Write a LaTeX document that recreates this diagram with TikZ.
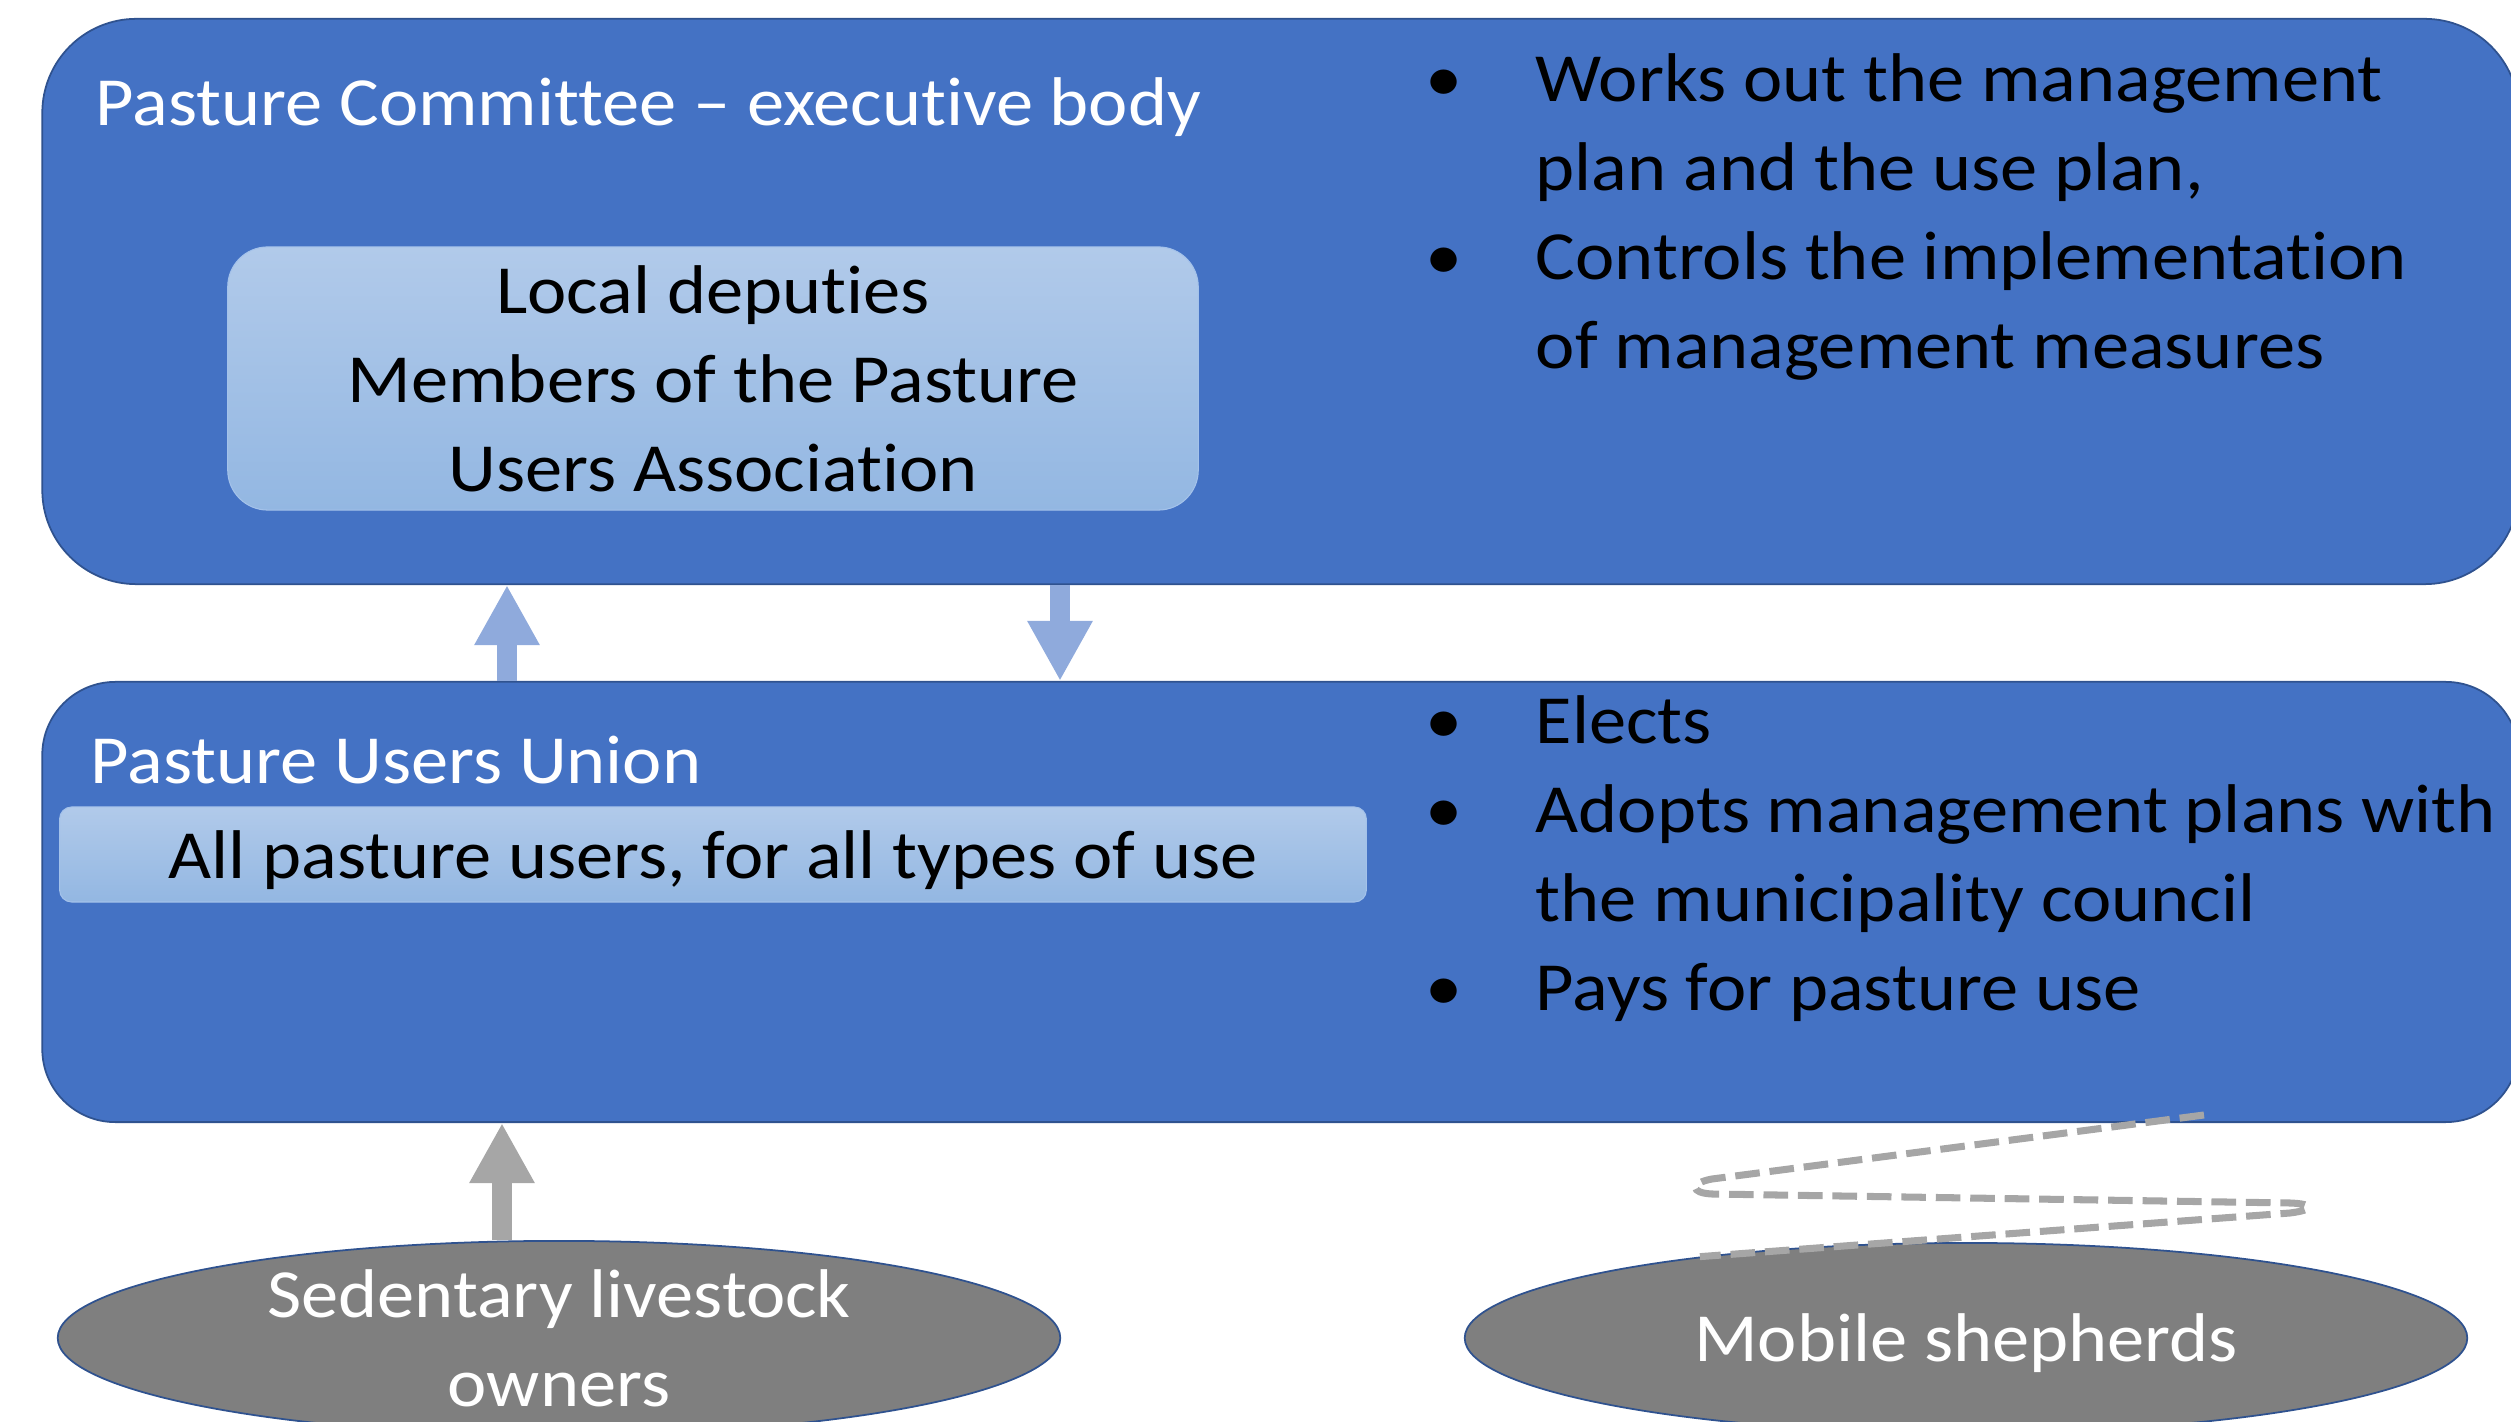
\documentclass[tikz,border=0pt]{standalone}
\usepackage{fontspec}
\setmainfont{Carlito}[FakeStretch=1.08,Ligatures=NoCommon]
\usetikzlibrary{arrows.meta,shapes.geometric}
\definecolor{boxblue}{HTML}{4472C4}
\definecolor{boxedge}{HTML}{2F528F}
\definecolor{barlight}{HTML}{B1CAEA}
\definecolor{bardark}{HTML}{93B7E2}
\definecolor{baredge}{HTML}{A4C2EA}
\definecolor{arrowblue}{HTML}{8FAADC}
\definecolor{arrowgray}{HTML}{A6A6A6}
\definecolor{ellgray}{HTML}{7F7F7F}
\tikzset{
  bigbox/.style={draw=boxedge,line width=0.5pt,fill=boxblue,minimum width=24.75cm},
  lightbox/.style={draw=baredge,line width=0.3pt,top color=barlight,bottom color=bardark,align=center,inner sep=0pt},
  group/.style={ellipse,draw=boxedge,line width=0.5pt,fill=ellgray,text=white,align=center,inner sep=0pt,minimum width=10.02cm,minimum height=1.9cm},
  blockarrow/.style={line width=0.2cm,-{Triangle[length=0.6cm,width=0.61cm]}},
  title/.style={text=white,anchor=base west,inner sep=0pt},
  tasks/.style={anchor=base west,inner sep=0pt}
}
\newcommand{\bul}{\makebox[0pt]{•}\hspace{26.2pt}}
\newcommand{\ind}{\hspace{26.2pt}}
\begin{document}
\begin{tikzpicture}[x=0.01cm,y=-0.01cm,font=\fontsize{19.6}{25.3}\selectfont]
\useasboundingbox (0,0) rectangle (2511,1422);
% the two bodies
\node[bigbox,minimum height=5.65cm,rounded corners=0.94cm] (committee) at (1280.5,301.5) {};
\node[bigbox,minimum height=4.4cm,rounded corners=0.73cm] (union) at (1280.5,902) {};
\node[title] (committee title) at (95,126) {Pasture Committee – executive body};
\node[title] (union title) at (90,784) {Pasture Users Union};
\node[lightbox,minimum width=9.7cm,minimum height=2.63cm,rounded corners=0.4cm] (deputies) at (713,378.5) {Local deputies\\Members of the Pasture\\Users Association};
\node[lightbox,minimum width=13.06cm,minimum height=0.95cm,rounded corners=0.12cm,text depth=0pt] (users) at (713,854.5) {All pasture users, for all types of use};
% what each body does
\node[tasks] (committee tasks) at (1443,102) {\begin{tabular}[t]{@{}l@{}}
  \bul Works out the management\\ \ind plan and the use plan,\\
  \bul Controls the implementation\\ \ind of management measures\end{tabular}};
\node[tasks] (union tasks) at (1443,744) {\begin{tabular}[t]{@{}l@{}}
  \bul Elects\\ \bul Adopts management plans with\\ \ind the municipality council\\
  \bul Pays for pasture use\end{tabular}};
% pasture users
\node[group] (sedentary) at (559,1338) {Sedentary livestock\\owners};
\node[group,text depth=0pt] (shepherds) at (1966,1338) {Mobile shepherds};
% links
\coordinate (elect) at (507,0);
\coordinate (report) at (1060,0);
\coordinate (join) at (502,0);
\coordinate (roam) at (2204,1115);
\draw[blockarrow,arrowblue] (union.north -| elect) -- (committee.south -| elect);
\draw[blockarrow,arrowblue] (committee.south -| report) -- (union.north -| report);
\draw[blockarrow,arrowgray] (sedentary.north -| join) -- (union.south -| join);
\draw[arrowgray,line width=2pt,dash pattern=on 7pt off 2.8pt] (roam) -- (1712,1179)
  .. controls (1690,1183) and (1690,1193) .. (1712,1194) -- (2290,1203)
  .. controls (2316,1204) and (2314,1210) .. (2290,1213) -- (shepherds.163);
\end{tikzpicture}
\end{document}
